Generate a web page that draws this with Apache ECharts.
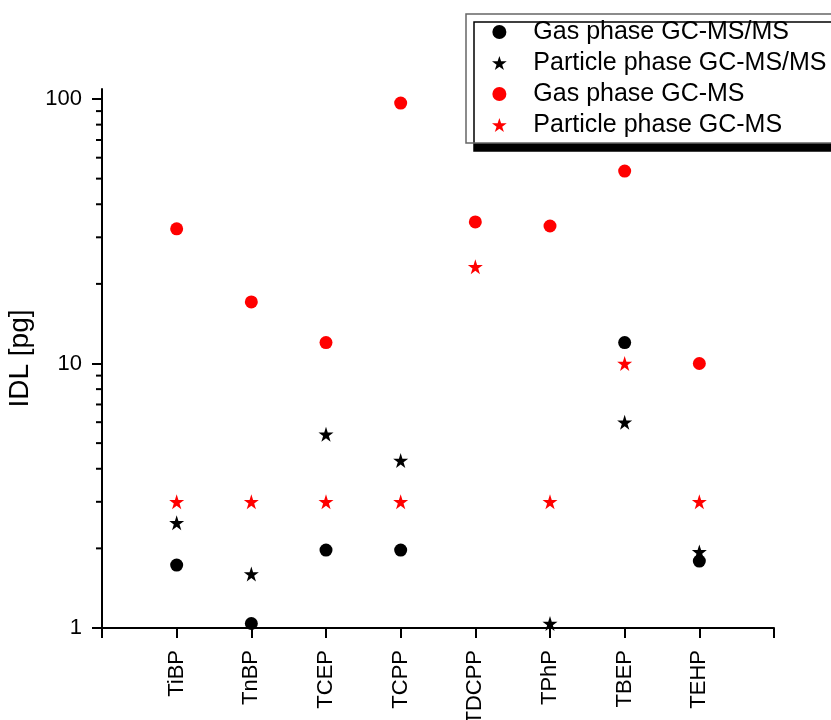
<!DOCTYPE html>
<html>
<head>
<meta charset="utf-8">
<script src="https://cdn.jsdelivr.net/npm/echarts@6/dist/echarts.min.js"></script>
<style>html,body{margin:0;padding:0;background:#fff;}#chart{width:831px;height:720px;}</style>
</head>
<body>
<div id="chart"></div>
<script>
var categories = ['TiBP', 'TnBP', 'TCEP', 'TCPP', 'TDCPP', 'TPhP', 'TBEP', 'TEHP'];
var gasMSMS      = [1.73, 1.04, 1.97, 1.97, null, null, 12.0, 1.79];
var particleMSMS = [2.5, 1.6, 5.4, 4.3, null, 1.04, 6.0, 1.94];
var gasMS        = [32.3, 17.1, 12.0, 96.5, 34.3, 33.1, 53.4, 10.0];
var particleMS   = [3.0, 3.0, 3.0, 3.0, 23.2, 3.0, 10.0, 3.0];
var majorTicks = [1, 10, 100];
var minorTicks = [2, 3, 4, 5, 6, 7, 8, 9, 20, 30, 40, 50, 60, 70, 80, 90];

var FONT = 'Liberation Sans, Arial, sans-serif';
var STAR = 'path://M50,0 L61.2,34.5 L97.6,34.5 L68.2,55.9 L79.4,90.5 L50,69.1 L20.6,90.5 L31.8,55.9 L2.4,34.5 L38.8,34.5 Z';
function pts(arr) {
  var out = [];
  arr.forEach(function (v, i) { if (v != null) out.push([i + 1, v]); });
  return out;
}
var chart = echarts.init(document.getElementById('chart'));
chart.setOption({
  animation: false,
  backgroundColor: '#fff',
  grid: { left: 102, right: 57, top: 89, bottom: 92, containLabel: false, outerBoundsMode: 'none' },
  legend: {
    orient: 'vertical',
    left: 466, top: 14,
    padding: [5, 40, 5, 26],
    itemWidth: 20, itemHeight: 14, itemGap: 5,
    backgroundColor: '#fff',
    borderColor: '#666', borderWidth: 1.5, borderRadius: 0,
    shadowColor: '#000', shadowBlur: 0, shadowOffsetX: 8, shadowOffsetY: 8,
    textStyle: { fontFamily: FONT, fontSize: 25, color: '#000', lineHeight: 26, padding: [0, 0, 0, 19] },
    data: ['Gas phase GC-MS/MS', 'Particle phase GC-MS/MS', 'Gas phase GC-MS', 'Particle phase GC-MS']
  },
  xAxis: {
    type: 'value', min: 0, max: 9, interval: 1,
    splitLine: { show: false },
    axisLine: { lineStyle: { color: '#000', width: 2 } },
    axisTick: { show: true, inside: false, length: 10, lineStyle: { color: '#000', width: 2 } },
    axisLabel: {
      rotate: 90, margin: 22, color: '#000', fontFamily: FONT, fontSize: 22,
      formatter: function (v) { return (v >= 1 && v <= categories.length) ? categories[v - 1] : ''; }
    }
  },
  yAxis: {
    type: 'log', logBase: 10, min: 1, max: 109.1,
    name: 'IDL [pg]', nameLocation: 'middle', nameGap: 61,
    nameTextStyle: { fontFamily: FONT, fontSize: 28, color: '#000' },
    splitLine: { show: false },
    axisLine: { lineStyle: { color: '#000', width: 2 } },
    axisTick: { show: true, inside: false, length: 10, lineStyle: { color: '#000', width: 2 }, customValues: majorTicks },
    axisLabel: { margin: 20, color: '#000', fontFamily: FONT, fontSize: 22, customValues: majorTicks,
      formatter: function (v) { return String(Math.round(v)); } }
  },
  series: [
    {
      name: 'minorTicks', type: 'custom', silent: true, clip: false, z: 5,
      data: minorTicks.map(function (v) { return [0, v]; }),
      encode: { x: 0, y: 1 },
      renderItem: function (params, api) {
        var p = api.coord([api.value(0), api.value(1)]);
        return {
          type: 'line',
          shape: { x1: p[0] - 6, y1: p[1], x2: p[0], y2: p[1] },
          style: { stroke: '#000', lineWidth: 2 }
        };
      }
    },
    {
      name: 'Gas phase GC-MS/MS', type: 'scatter', symbol: 'circle', symbolSize: 13,
      itemStyle: { color: '#000', opacity: 1 }, data: pts(gasMSMS)
    },
    {
      name: 'Particle phase GC-MS/MS', type: 'scatter', symbol: STAR, symbolSize: 15,
      itemStyle: { color: '#000', opacity: 1 }, data: pts(particleMSMS)
    },
    {
      name: 'Gas phase GC-MS', type: 'scatter', symbol: 'circle', symbolSize: 13,
      itemStyle: { color: '#ff0000', opacity: 1 }, data: pts(gasMS)
    },
    {
      name: 'Particle phase GC-MS', type: 'scatter', symbol: STAR, symbolSize: 15,
      itemStyle: { color: '#ff0000', opacity: 1 }, data: pts(particleMS)
    }
  ]
});
</script>
</body>
</html>
